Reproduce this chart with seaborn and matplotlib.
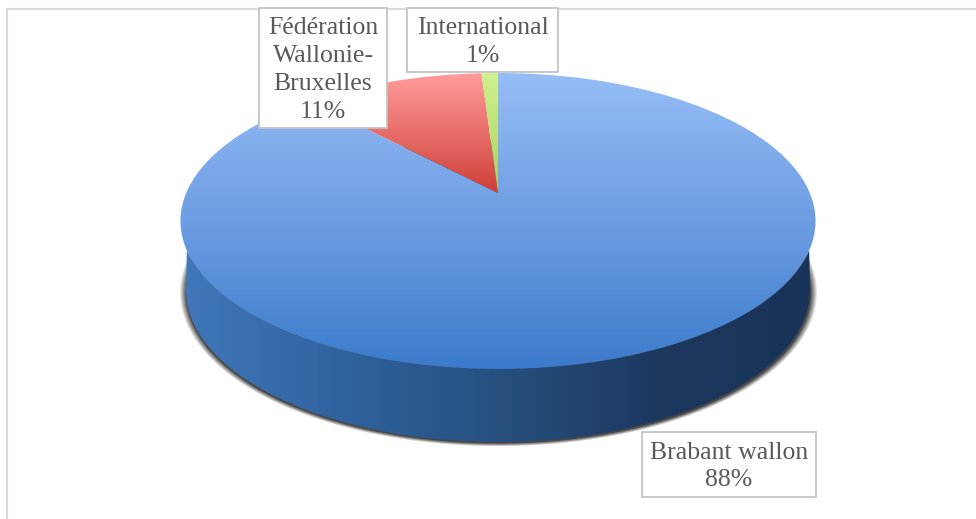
import numpy as np
import matplotlib
matplotlib.use('Agg')
import matplotlib.pyplot as plt
import matplotlib.transforms as mtransforms
from matplotlib.patches import Rectangle, Polygon
import seaborn as sns

sns.set_style("white")

# ── data ──
categories = ['Brabant wallon', 'Fédération Wallonie-Bruxelles', 'International']
shares = [88, 11, 1]
label_names = ['Brabant wallon', 'Fédération\nWallonie-\nBruxelles', 'International']

W, H = 976, 519
CX, APEX_Y = 498, 193     # pointe du camembert, en pixels
TILT = 0.189              # perspective
SCALE_X, SCALE_Y = 311.8, 142.7
DEPTH_CY, DEPTH_RX, DEPTH_RY = 290, 312, 152
TOP_CY, TOP_RX, TOP_RY = 221, 317.5, 148

top_cmaps = [
    sns.blend_palette(['#96bdf6', '#6d9de2', '#3b7bcb'], n_colors=256, as_cmap=True),
    sns.blend_palette(['#ff9c9a', '#cf3f38'], n_colors=256, as_cmap=True),
    sns.blend_palette(['#d0f28e', '#a9d063'], n_colors=256, as_cmap=True),
]
top_spans = [(73, 369), (73, 193), (73, 193)]
wall_cmap = sns.blend_palette(['#4178ba', '#2f639f', '#27507f', '#1c385f', '#1a3358'],
                              n_colors=256, as_cmap=True)


class Perspective(mtransforms.Transform):
    """Disque unité -> disque vu en perspective (coordonnées pixels)"""
    input_dims = 2
    output_dims = 2

    def transform_non_affine(self, values):
        u, v = values[:, 0], values[:, 1]
        d = 1 + TILT * v
        return np.column_stack([CX + SCALE_X * u / d, APEX_Y - SCALE_Y * v / d])


fig = plt.figure(figsize=(W / 100, H / 100), dpi=100)
ax = fig.add_axes([0, 0, 1, 1])

wedges, _ = ax.pie(shares, startangle=90, counterclock=False,
                   colors=['none'] * len(shares), wedgeprops={'linewidth': 0})
ax.set_aspect('auto')
ax.set_xlim(0, W)
ax.set_ylim(H, 0)
ax.axis('off')

# ── cadre ──
ax.plot([7, 7], [H, 8.5], color='#d9d9d9', lw=1.5, zorder=0)
ax.plot([7, W], [8.5, 8.5], color='#d9d9d9', lw=1.5, zorder=0)

# ── ombre ──
yy, xx = np.mgrid[0:H, 0:W]
r = np.sqrt(((xx - CX) / 319) ** 2 + ((yy - 292) / 154) ** 2)
shadow = np.zeros((H, W, 4))
shadow[..., :3] = 0.2
shadow[..., 3] = np.clip((1 - r) / 0.022, 0, 1) * 0.9
ax.imshow(shadow, extent=(0, W, H, 0), aspect='auto', zorder=1)

# ── paroi ──
t = np.linspace(np.pi - 0.2, 0.2, 200)
top_arc = np.column_stack([CX + TOP_RX * np.cos(t), TOP_CY + TOP_RY * np.sin(t)])
t = np.linspace(np.pi, 0, 200)
low_arc = np.column_stack([CX + DEPTH_RX * np.cos(t), DEPTH_CY + DEPTH_RY * np.sin(t)])
wall = Polygon(np.vstack([top_arc, low_arc[::-1]]), closed=True, fc='none', ec='none',
               transform=ax.transData)
ax.add_patch(wall)
grad = ax.imshow(np.linspace(0, 1, 256).reshape(1, -1), cmap=wall_cmap, vmin=0, vmax=1,
                 extent=(CX - TOP_RX, CX + TOP_RX, H, 0), aspect='auto', zorder=2)
grad.set_clip_path(wall)

# ── dessus ──
persp = Perspective()
for w, cmap, (y0, y1) in zip(wedges, top_cmaps, top_spans):
    w.set_transform(persp + ax.transData)
    im = ax.imshow(np.linspace(0, 1, 256).reshape(-1, 1), cmap=cmap, vmin=0, vmax=1,
                   extent=(0, W, y1, y0), aspect='auto', zorder=3)
    im.set_clip_path(w)

# ── étiquettes ──
boxes = [(642, 432, 174, 65), (259, 8, 128, 120), (407, 8, 151, 64)]
for name, share, (x, y, bw, bh) in zip(label_names, shares, boxes):
    ax.add_patch(Rectangle((x, y), bw, bh, fc='white', ec='#c4c4c4', lw=1.3, zorder=5))
    ax.text(x + bw / 2, y + bh / 2 + 2, f'{name}\n{share}%', ha='center', va='center',
            family='Liberation Serif', fontsize=18.5, color='#595959',
            linespacing=1.34, zorder=6)

ax.set_xlim(0, W)
ax.set_ylim(H, 0)
fig.savefig('out.png', dpi=100)
